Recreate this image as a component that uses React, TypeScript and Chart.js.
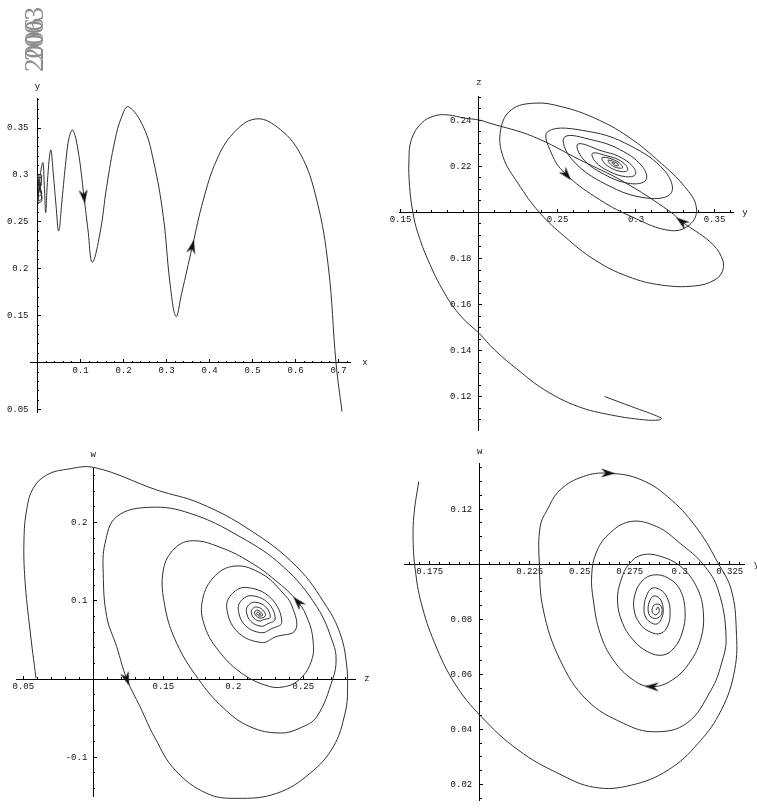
import React, { useEffect, useRef } from 'react';
import { Chart, registerables } from 'chart.js';

Chart.register(...registerables);

type Pt = [number, number];

// ===== Panel 1 (top-left): x horizontal, y vertical =====
const xyCurve: Pt[] = [
  [0.002, 0.285], [0.009, 0.29], [0.001, 0.292], [0.01, 0.28], [0.0015, 0.278], [0.0095, 0.296],
  [0.001, 0.297], [0.0105, 0.275], [0.0012, 0.2735], [0.0098, 0.2995], [0.0008, 0.299], [0.0102, 0.2725],
  [0.001, 0.2716],
  [0.0121, 0.3131], [0.0163, 0.284], [0.0191, 0.2599], [0.0233, 0.2947], [0.0307, 0.3266], [0.036, 0.3053],
  [0.043, 0.2681], [0.0493, 0.2404], [0.057, 0.2734], [0.0663, 0.316], [0.0733, 0.3394], [0.0819, 0.3479],
  [0.0942, 0.3266], [0.1081, 0.2769], [0.1174, 0.2415], [0.1274, 0.2071], [0.1453, 0.238], [0.1609, 0.2876],
  [0.1802, 0.3372], [0.1958, 0.362], [0.2112, 0.3727], [0.246, 0.3514], [0.2693, 0.316], [0.2926, 0.2556],
  [0.3081, 0.1848], [0.3221, 0.1493], [0.3353, 0.1741], [0.36, 0.2237], [0.3856, 0.2734], [0.4167, 0.316],
  [0.4553, 0.3444], [0.5058, 0.3596], [0.5563, 0.3514], [0.6105, 0.3231], [0.6493, 0.2734], [0.6763, 0.2024],
  [0.6942, 0.0997], [0.7081, 0.0479],
];
const xyArrowPts: Pt[] = [[0.1081, 0.2769], [0.36, 0.2237]];
const xyArrowDeg: number[] = [173, 13];
const xyXTicks: number[] = [0.1, 0.2, 0.3, 0.4, 0.5, 0.6, 0.7];
const xyYTicks: number[] = [0.05, 0.15, 0.2, 0.25, 0.3, 0.35];

// ===== Panel 2 (top-right): y horizontal, z vertical =====
const yzCurve: Pt[] = [
  [0.2868, 0.221],
  [0.2847, 0.2218], [0.2863, 0.2205], [0.289, 0.2203], [0.2873, 0.2216],
  [0.2822, 0.2226], [0.2858, 0.2199], [0.2915, 0.2194], [0.2879, 0.2222],
  [0.2786, 0.2239], [0.2796, 0.2216], [0.2848, 0.219], [0.291, 0.2177], [0.2946, 0.2182], [0.2936, 0.2204], [0.2885, 0.223], [0.2822, 0.2244],
  [0.2724, 0.2257], [0.2741, 0.222], [0.2829, 0.2178], [0.2934, 0.2155], [0.2996, 0.2164], [0.2979, 0.22], [0.289, 0.2243], [0.2785, 0.2266],
  [0.2631, 0.2297], [0.2658, 0.2236], [0.2798, 0.2165], [0.2966, 0.2125], [0.3064, 0.2141], [0.3037, 0.2202], [0.2896, 0.2273], [0.2729, 0.2313],
  [0.2545, 0.2327], [0.2588, 0.2233], [0.2808, 0.2122], [0.3071, 0.2062], [0.3225, 0.2085], [0.3183, 0.218], [0.2962, 0.229], [0.27, 0.2351],
  [0.2439, 0.2351], [0.2471, 0.2242], [0.2558, 0.2163], [0.2737, 0.2069], [0.297, 0.1982], [0.3225, 0.1921], [0.3352, 0.1953],
  [0.3384, 0.2025], [0.331, 0.2112], [0.3161, 0.2213], [0.2949, 0.2329], [0.2737, 0.2409], [0.2524, 0.2459], [0.2355, 0.2474],
  [0.2206, 0.2445], [0.2138, 0.2358], [0.2153, 0.2242], [0.2248, 0.2127], [0.2386, 0.1999], [0.2546, 0.1895], [0.2737, 0.1794],
  [0.2949, 0.1722], [0.3161, 0.1685], [0.3374, 0.1681], [0.3501, 0.1707], [0.3554, 0.1751], [0.3544, 0.1808], [0.3471, 0.1873],
  [0.3291, 0.196], [0.3217, 0.2004], [0.2919, 0.2134], [0.2643, 0.2228], [0.2346, 0.2329], [0.207, 0.2387], [0.2, 0.2401],
  [0.1909, 0.2409], [0.1803, 0.2423], [0.1718, 0.2419], [0.1633, 0.2387], [0.1569, 0.2315], [0.1554, 0.2228], [0.1558, 0.2112],
  [0.158, 0.1996], [0.1611, 0.191], [0.1675, 0.1794], [0.1781, 0.1649], [0.1887, 0.1548], [0.2, 0.1476], [0.21, 0.1403],
  [0.2248, 0.1317], [0.2418, 0.123], [0.2631, 0.1158], [0.2843, 0.1121], [0.3055, 0.11], [0.3151, 0.11], [0.3161, 0.1108],
  [0.297, 0.1158], [0.28, 0.1201],
];
const yzArrowPts: Pt[] = [[0.2558, 0.2163], [0.3291, 0.196]];
const yzArrowDeg: number[] = [140, 307];
const yzXTicks: number[] = [0.15, 0.25, 0.3, 0.35];
const yzYTicks: number[] = [0.12, 0.14, 0.16, 0.18, 0.22, 0.24];

// ===== Panel 3 (bottom-left): z horizontal, w vertical =====
const zwCurve: Pt[] = [
  [0.2179, 0.083],
  [0.2194, 0.0824], [0.2176, 0.0856], [0.2166, 0.0837], [0.2184, 0.0805],
  [0.2209, 0.0817], [0.2173, 0.0881], [0.2151, 0.0843], [0.2187, 0.0779],
  [0.2229, 0.0807], [0.2209, 0.0885], [0.2166, 0.092], [0.2139, 0.09], [0.2129, 0.0853], [0.2148, 0.0775], [0.2191, 0.0741], [0.2218, 0.076],
  [0.2264, 0.0788], [0.2231, 0.0921], [0.2156, 0.0981], [0.2111, 0.0949], [0.2093, 0.0867], [0.2126, 0.0734], [0.2201, 0.0674], [0.2246, 0.0706],
  [0.2299, 0.0766], [0.2248, 0.0972], [0.2133, 0.1064], [0.2063, 0.1014], [0.2035, 0.0889], [0.2086, 0.0683], [0.2201, 0.0591], [0.2271, 0.0641],
  [0.2346, 0.0725], [0.2269, 0.1032], [0.2098, 0.1169], [0.1994, 0.1094], [0.1953, 0.0908], [0.2029, 0.0603], [0.2201, 0.0466], [0.2304, 0.054],
  [0.2444, 0.0626], [0.2419, 0.0932], [0.2348, 0.1111], [0.2205, 0.1341], [0.2012, 0.1443], [0.1855, 0.129], [0.1776, 0.0971],
  [0.1798, 0.0664], [0.1891, 0.037], [0.2048, 0.0089], [0.2226, -0.0077], [0.2355, -0.0102],
  [0.2476, 0.0], [0.256, 0.0243], [0.2569, 0.0498], [0.2534, 0.0754], [0.2462, 0.0983], [0.2298, 0.1264], [0.2119, 0.1494],
  [0.1919, 0.1673], [0.1714, 0.1766], [0.1584, 0.1673], [0.15, 0.1392], [0.1512, 0.0923], [0.1596, 0.0456], [0.175, 0.0],
  [0.1929, -0.037], [0.2119, -0.0609], [0.2334, -0.069], [0.2476, -0.0626], [0.2596, -0.0481],
  [0.271, 0.0], [0.2734, 0.0243], [0.2712, 0.046], [0.2596, 0.0923], [0.2357, 0.1434], [0.2048, 0.1817], [0.1691, 0.2116],
  [0.1405, 0.2193], [0.1167, 0.2073], [0.1084, 0.1733], [0.1071, 0.135], [0.1096, 0.0796], [0.1167, 0.0413], [0.1239, 0.0],
  [0.1334, -0.0354], [0.1441, -0.0754], [0.1584, -0.1162], [0.181, -0.146], [0.2024, -0.1524], [0.231, -0.146], [0.2548, -0.1204],
  [0.2714, -0.0865], [0.2798, -0.0438],
  [0.2816, -0.014], [0.2805, 0.0243], [0.2762, 0.0584], [0.2667, 0.0923], [0.2453, 0.1434], [0.2119, 0.1903], [0.1762, 0.2244],
  [0.1453, 0.2414], [0.1012, 0.2699], [0.081, 0.2678], [0.0667, 0.2605], [0.0571, 0.2436], [0.0524, 0.2158], [0.0505, 0.1775],
  [0.0512, 0.1264], [0.0548, 0.0626], [0.0591, 0.0009],
];
const zwArrowPts: Pt[] = [[0.1239, 0.0], [0.2462, 0.0983]];
const zwArrowDeg: number[] = [160, 318];
const zwXTicks: number[] = [0.05, 0.15, 0.2, 0.25];
const zwYTicks: number[] = [-0.1, 0.1, 0.2];

// ===== Panel 4 (bottom-right): y horizontal, w vertical =====
const ywCurve: Pt[] = [
  [0.2882, 0.0834], [0.2892, 0.0845], [0.2897, 0.0827], [0.2877, 0.0816], [0.2862, 0.083], [0.2872, 0.0852],
  [0.2902, 0.0852], [0.2912, 0.0827], [0.2892, 0.0805], [0.2857, 0.0808], [0.2842, 0.0834], [0.2852, 0.087],
  [0.2872, 0.0885], [0.2902, 0.0874], [0.2917, 0.0841], [0.2912, 0.0808], [0.2887, 0.0783], [0.2852, 0.079],
  [0.2827, 0.0812], [0.2822, 0.0845], [0.2832, 0.0881], [0.2862, 0.0913], [0.2912, 0.0903], [0.2942, 0.087],
  [0.2952, 0.0827], [0.2942, 0.0779], [0.2907, 0.0749], [0.2852, 0.0754], [0.2802, 0.0783], [0.2772, 0.0834],
  [0.2777, 0.0892], [0.2812, 0.0939], [0.2868, 0.0961], [0.2942, 0.095], [0.3002, 0.0907], [0.3027, 0.0827],
  [0.3012, 0.075], [0.2972, 0.0696], [0.2917, 0.067], [0.2842, 0.0681], [0.2767, 0.0725], [0.2712, 0.079],
  [0.2689, 0.087], [0.2707, 0.0943], [0.2747, 0.1001], [0.2812, 0.1034], [0.2912, 0.1027], [0.3012, 0.0987],
  [0.3087, 0.0914], [0.3118, 0.0827], [0.3107, 0.0732], [0.3052, 0.0645], [0.2962, 0.0579], [0.286, 0.0555],
  [0.2768, 0.0579], [0.2668, 0.0652], [0.2602, 0.0749], [0.2568, 0.087], [0.256, 0.0961], [0.2582, 0.1041],
  [0.2642, 0.1107], [0.2752, 0.1155], [0.2885, 0.1137], [0.3002, 0.1076], [0.3117, 0.1], [0.3192, 0.0907],
  [0.3232, 0.0736], [0.3207, 0.0634], [0.3157, 0.0543], [0.3037, 0.0423], [0.2875, 0.0391], [0.2718, 0.0422],
  [0.2535, 0.0507], [0.2402, 0.0652], [0.2318, 0.0834], [0.2298, 0.1004], [0.2302, 0.1136], [0.2337, 0.1197],
  [0.2402, 0.127], [0.2518, 0.1319], [0.2642, 0.1331], [0.2808, 0.1307], [0.2958, 0.1234], [0.3092, 0.1125],
  [0.3192, 0.1004], [0.3258, 0.0907], [0.3283, 0.0761], [0.3275, 0.0616], [0.3208, 0.047], [0.3092, 0.0349],
  [0.2942, 0.0252], [0.2758, 0.0197], [0.2575, 0.0189], [0.2392, 0.024], [0.2192, 0.0325], [0.2008, 0.0446],
  [0.1875, 0.0567], [0.1775, 0.0713], [0.1708, 0.0858], [0.1678, 0.0979], [0.1667, 0.1088], [0.1672, 0.1185],
  [0.1695, 0.13],
];
const ywArrowPts: Pt[] = [[0.2642, 0.1331], [0.286, 0.0555]];
const ywArrowDeg: number[] = [92, 272];
const ywXTicks: number[] = [0.175, 0.225, 0.25, 0.275, 0.3, 0.325];
const ywYTicks: number[] = [0.02, 0.04, 0.06, 0.08, 0.12];

interface PanelSpec {
  left: number; top: number; width: number; height: number;
  pad: { left: number; right: number; top: number; bottom: number };
  xMin: number; xMax: number; yMin: number; yMax: number;
  xCross: number; yCross: number;
  xMajor: number[]; yMajor: number[]; xMinor: number; yMinor: number;
  xName: string; yName: string; xNameDx: number; yNameDy: number;
  yLabelGap: number;
  curve: Pt[]; arrows: Pt[]; angles: number[];
}

const panels: PanelSpec[] = [
  {
    left: 0, top: 70, width: 378, height: 360,
    pad: { left: 30, right: 28, top: 28, bottom: 18 },
    xMin: -0.01744, xMax: 0.7267, yMin: 0.0475, yMax: 0.382, xCross: 0, yCross: 0.1,
    xMajor: xyXTicks, yMajor: xyYTicks, xMinor: 0.02, yMinor: 0.01,
    xName: 'x', yName: 'y', xNameDx: 15, yNameDy: 11, yLabelGap: 9,
    curve: xyCurve, arrows: xyArrowPts, angles: xyArrowDeg,
  },
  {
    left: 378, top: 60, width: 379, height: 380,
    pad: { left: 21.7, right: 24, top: 36.7, bottom: 10 },
    xMin: 0.1495, xMax: 0.3618, yMin: 0.1056, yMax: 0.2502, xCross: 0.2, yCross: 0.2,
    xMajor: yzXTicks, yMajor: yzYTicks, xMinor: 0.01, yMinor: 0.005,
    xName: 'y', yName: 'z', xNameDx: 12, yNameDy: 14, yLabelGap: 7.5,
    curve: yzCurve, arrows: yzArrowPts, angles: yzArrowDeg,
  },
  {
    left: 0, top: 440, width: 378, height: 370,
    pad: { left: 16.7, right: 23, top: 28.3, bottom: 13.3 },
    xMin: 0.0453, xMax: 0.2869, yMin: -0.1503, yMax: 0.2691, xCross: 0.1, yCross: 0,
    xMajor: zwXTicks, yMajor: zwYTicks, xMinor: 0.01, yMinor: 0.02,
    xName: 'z', yName: 'w', xNameDx: 12, yNameDy: 14, yLabelGap: 6,
    curve: zwCurve, arrows: zwArrowPts, angles: zwArrowDeg,
  },
  {
    left: 378, top: 440, width: 379, height: 370,
    pad: { left: 26.7, right: 12.3, top: 23.3, bottom: 10 },
    xMin: 0.1625, xMax: 0.3325, yMin: 0.0143, yMax: 0.1367, xCross: 0.2, yCross: 0.1,
    xMajor: ywXTicks, yMajor: ywYTicks, xMinor: 0.005, yMinor: 0.005,
    xName: 'y', yName: 'w', xNameDx: 12, yNameDy: 12, yLabelGap: 7.5,
    curve: ywCurve, arrows: ywArrowPts, angles: ywArrowDeg,
  },
];

const MONO = '"Liberation Mono", "DejaVu Sans Mono", monospace';

function makeArrow(): HTMLCanvasElement {
  const c = document.createElement('canvas');
  c.width = 10;
  c.height = 15;
  const g = c.getContext('2d') as CanvasRenderingContext2D;
  g.fillStyle = '#111';
  g.beginPath();
  g.moveTo(5, 0.5);
  g.lineTo(9.5, 14.5);
  g.lineTo(5, 10);
  g.lineTo(0.5, 14.5);
  g.closePath();
  g.fill();
  return c;
}

const axisNamesPlugin: any = {
  id: 'axisNames',
  afterDraw(chart: any, _args: any, opts: any) {
    const { ctx, chartArea, scales } = chart;
    const xPix = scales.x.getPixelForValue(opts.xCross);
    const yPix = scales.y.getPixelForValue(opts.yCross);
    ctx.save();
    ctx.font = `9px ${MONO}`;
    ctx.fillStyle = '#111';
    ctx.textAlign = 'center';
    ctx.textBaseline = 'middle';
    ctx.fillText(opts.xName, chartArea.right + opts.xNameDx, yPix);
    ctx.fillText(opts.yName, xPix, chartArea.top - opts.yNameDy);
    ctx.restore();
  },
};

function PanelChart({ spec }: { spec: PanelSpec }) {
  const ref = useRef<HTMLCanvasElement | null>(null);
  useEffect(() => {
    const canvas = ref.current;
    if (!canvas) return;
    const arrow = makeArrow();
    const areaW = spec.width - spec.pad.left - spec.pad.right;
    const xPerPx = (spec.xMax - spec.xMin) / areaW;
    const labelX = spec.xCross - spec.yLabelGap * xPerPx;
    const font = { family: MONO, size: 9 };
    const flatten = (sc: any) => {
      if (sc.isHorizontal()) sc.height = 0;
      else sc.width = 0;
      sc.paddingLeft = 0; sc.paddingRight = 0; sc.paddingTop = 0; sc.paddingBottom = 0;
    };
    const fmt = (v: any) => String(Number(Number(v).toFixed(4)));
    const major = (vals: number[]) => (sc: any) => { sc.ticks = vals.map((v) => ({ value: v })); };
    const minor = (step: number, lo: number, hi: number) => (sc: any) => {
      const out: any[] = [];
      for (let k = Math.ceil(lo / step - 1e-9); k * step <= hi + 1e-12; k++) {
        out.push({ value: Number((k * step).toFixed(6)) });
      }
      sc.ticks = out;
    };
    const xBase = { type: 'linear', axis: 'x', min: spec.xMin, max: spec.xMax, bounds: 'data', offset: false, position: { y: spec.yCross }, afterFit: flatten };
    const yBase = { type: 'linear', axis: 'y', min: spec.yMin, max: spec.yMax, bounds: 'data', offset: false, afterFit: flatten };

    const chart = new Chart(canvas, {
      type: 'scatter',
      data: {
        datasets: [
          {
            data: spec.arrows.map(([x, y]) => ({ x, y })),
            showLine: false,
            pointStyle: arrow as any,
            pointRotation: spec.angles,
            pointRadius: 5,
            pointHoverRadius: 5,
            clip: false,
            order: 0,
          } as any,
          {
            data: spec.curve.map(([x, y]) => ({ x, y })),
            showLine: true,
            borderColor: '#303030',
            borderWidth: 1,
            pointRadius: 0,
            pointHoverRadius: 0,
            tension: 0.4,
            capBezierPoints: false,
            fill: false,
            clip: false,
            order: 1,
          } as any,
        ],
      },
      options: {
        animation: false,
        responsive: false,
        maintainAspectRatio: false,
        events: [],
        layout: { autoPadding: false, padding: spec.pad },
        plugins: {
          legend: { display: false },
          tooltip: { enabled: false },
          axisNames: {
            xCross: spec.xCross, yCross: spec.yCross, xName: spec.xName, yName: spec.yName,
            xNameDx: spec.xNameDx, yNameDy: spec.yNameDy,
          },
        } as any,
        scales: {
          x: {
            ...xBase,
            grid: { display: true, drawOnChartArea: false, drawTicks: true, tickLength: -4, color: '#000', lineWidth: 1 },
            border: { display: true, color: '#000', width: 1 },
            ticks: { autoSkip: false, maxRotation: 0, minRotation: 0, padding: 6, font, color: '#111', callback: fmt },
            afterBuildTicks: major(spec.xMajor),
          },
          xm: {
            ...xBase,
            grid: { display: true, drawOnChartArea: false, drawTicks: true, tickLength: -2, color: '#000', lineWidth: 1 },
            border: { display: false },
            ticks: { display: false },
            afterBuildTicks: minor(spec.xMinor, spec.xMin, spec.xMax),
          },
          y: {
            ...yBase,
            position: { x: labelX },
            grid: { display: false, drawTicks: false },
            border: { display: false },
            ticks: { autoSkip: false, padding: 0, font, color: '#111', callback: fmt },
            afterBuildTicks: major(spec.yMajor),
          },
          yt: {
            ...yBase,
            position: { x: spec.xCross },
            grid: { display: true, drawOnChartArea: false, drawTicks: true, tickLength: -4, color: '#000', lineWidth: 1 },
            border: { display: true, color: '#000', width: 1 },
            ticks: { display: false },
            afterBuildTicks: major(spec.yMajor),
          },
          ym: {
            ...yBase,
            position: { x: spec.xCross },
            grid: { display: true, drawOnChartArea: false, drawTicks: true, tickLength: -2, color: '#000', lineWidth: 1 },
            border: { display: false },
            ticks: { display: false },
            afterBuildTicks: minor(spec.yMinor, spec.yMin, spec.yMax),
          },
        } as any,
      },
      plugins: [axisNamesPlugin],
    } as any);
    return () => chart.destroy();
  }, [spec]);
  return (
    <canvas
      ref={ref}
      width={spec.width}
      height={spec.height}
      style={{ position: 'absolute', left: spec.left, top: spec.top, width: spec.width, height: spec.height }}
    />
  );
}

const titleStyle: React.CSSProperties = {
  position: 'absolute',
  left: 20.5,
  transform: 'rotate(-90deg)',
  transformOrigin: '0 0',
  fontFamily: '"Liberation Serif", "DejaVu Serif", serif',
  fontSize: 27,
  lineHeight: '27px',
  color: '#8c8c8c',
  whiteSpace: 'nowrap',
};

export default function App() {
  return (
    <div style={{ position: 'absolute', left: 0, top: 0, width: 757, height: 810, background: '#fff', overflow: 'hidden' }}>
      {panels.map((p, i) => (
        <PanelChart key={i} spec={p} />
      ))}
      <div style={{ ...titleStyle, top: 72 }}>2006</div>
      <div style={{ ...titleStyle, top: 61 }}>2003</div>
    </div>
  );
}
